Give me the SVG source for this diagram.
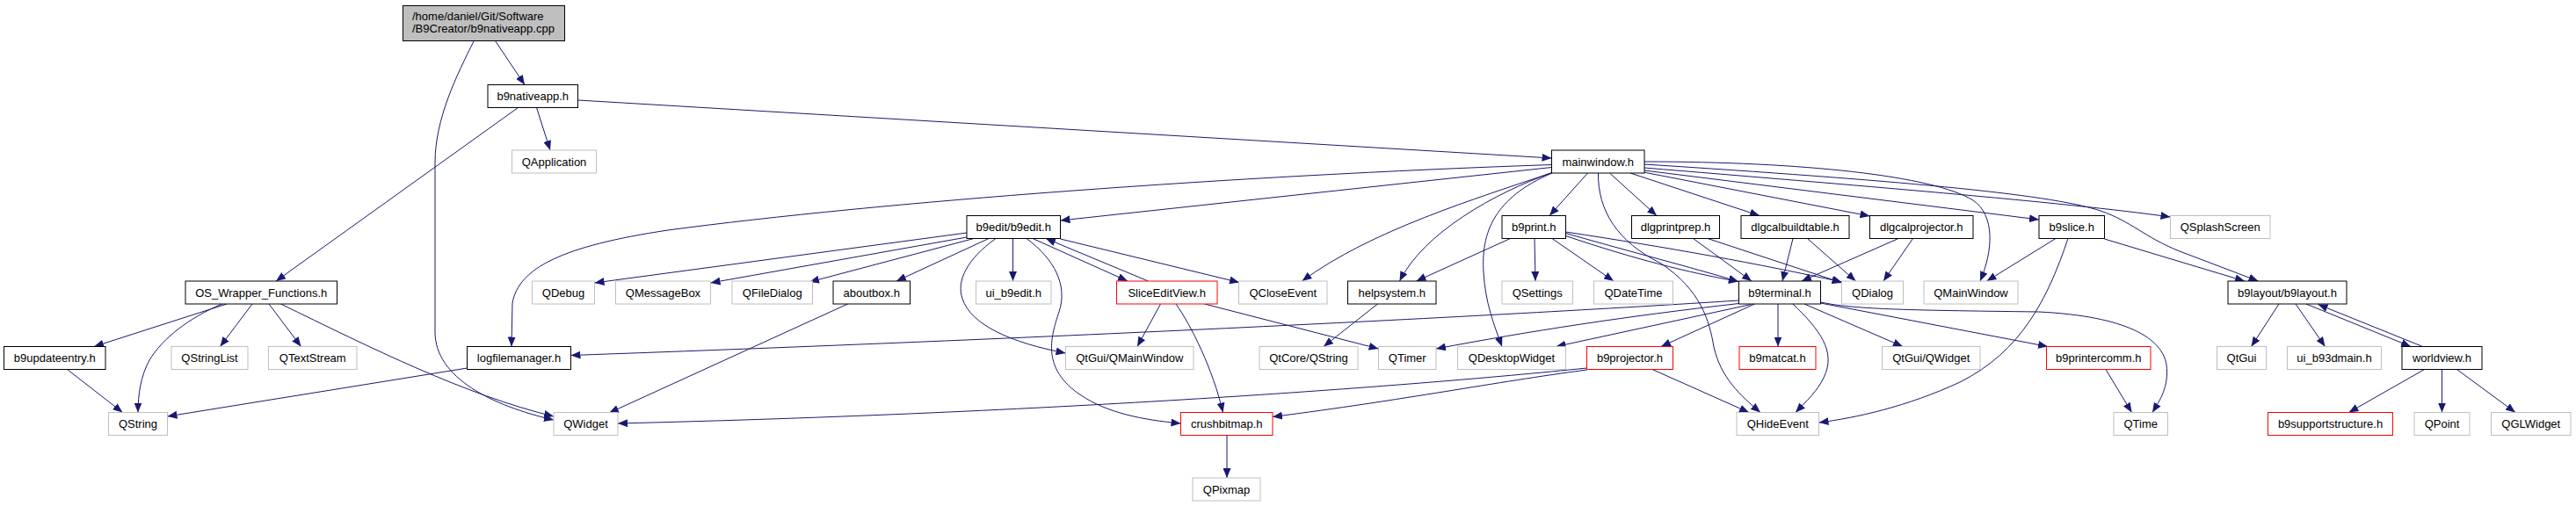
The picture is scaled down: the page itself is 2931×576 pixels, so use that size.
<svg xmlns="http://www.w3.org/2000/svg" width="2931" height="576" viewBox="0 0 2931 576">
<style>
rect{fill:#fff;stroke-width:1}
.k{stroke:#000}
.g{stroke:#bfbfbf}
.r{stroke:#ff0000}
.root{fill:#bfbfbf;stroke:#000}
text{font-family:"Liberation Sans",Helvetica,Arial,sans-serif;font-size:13px;fill:#000}
.n text{text-anchor:middle}
#edges path{fill:none;stroke:#191970;stroke-width:1;marker-end:url(#a)}
</style>
<defs>
<marker id="a" markerWidth="11" markerHeight="9" refX="11" refY="4.5" orient="auto" markerUnits="userSpaceOnUse"><path d="M0,0 L11,4.5 L0,9 z" fill="#191970"/></marker>
</defs>
<rect width="2931" height="576" style="fill:#fff;stroke:none"/>
<g id="edges">
<path d="M563.5,46.5 L597,96.5"/>
<path d="M539,47 C 520,85 495,135 495,185 L495,378 C 495,430 560,462 630,478"/>
<path d="M610.5,122.5 L626,171"/>
<path d="M657.5,114 L1765.5,180"/>
<path d="M589.5,122.5 L314,320"/>
<path d="M258,346 L107,394.5"/>
<path d="M252.5,346 C 215,362 185,385 170,410 C 160,428 157,450 157,469.5"/>
<path d="M287,346 L250.5,394.5"/>
<path d="M306,346 L342.5,394.5"/>
<path d="M319.5,346 C 420,395 530,450 630,474"/>
<path d="M76.5,420.5 L139.5,469.5"/>
<path d="M531.5,419 L190.5,474"/>
<path d="M1765.5,187.5 C 1400,200 1000,230 760,262 C 640,280 590,305 583,345 L582,394.5"/>
<path d="M1765.5,190.5 L1206.5,251"/>
<path d="M1766,196.5 C 1680,226 1560,262 1481.5,320"/>
<path d="M1766,196.5 C 1700,220 1620,265 1592.5,320"/>
<path d="M1766,197 C 1700,225 1685,265 1688,310 C 1690,345 1700,370 1709,394.5"/>
<path d="M1806.5,197 L1763,245.5"/>
<path d="M1818.5,197 C 1818,240 1840,275 1890,300 C 1935,330 1945,365 1950,395 C 1958,430 1980,450 2003,469.5"/>
<path d="M1831.5,197 L1885,245.5"/>
<path d="M1855,197 L2002,245.5"/>
<path d="M1870,196 L2127.5,246"/>
<path d="M1871,184 C 2050,184 2200,200 2245,228 C 2270,245 2268,285 2253,320"/>
<path d="M1871,187 C 2150,205 2330,220 2390,240 C 2425,252 2440,270 2480,286 L2569.5,320"/>
<path d="M1871,191 C 2100,210 2350,230 2469.5,247"/>
<path d="M1871,194 L2320,250"/>
<path d="M1100,265 L676.5,322"/>
<path d="M1100,270 L808.5,322"/>
<path d="M1108,271.5 L921,321"/>
<path d="M1125,271.5 L1020,320"/>
<path d="M1152.5,271.5 L1152.5,320"/>
<path d="M1133,271.5 C 1100,295 1088,320 1095,340 C 1105,370 1150,390 1212.5,402"/>
<path d="M1168,271.5 C 1200,295 1215,325 1205,355 C 1195,385 1185,420 1230,450 C 1260,470 1300,478 1343.5,482"/>
<path d="M1175,271.5 L1283,320"/>
<path d="M1306.5,320 L1190,271.5"/>
<path d="M1206.5,272 L1410,321.5"/>
<path d="M1320.5,346 L1294,394.5"/>
<path d="M1338,346 C 1355,370 1380,420 1391.5,469.5"/>
<path d="M1370.5,346 L1568.5,397"/>
<path d="M1567.5,346 L1506,394.5"/>
<path d="M1718.5,271.5 L1611.5,320"/>
<path d="M1746,271.5 L1747,320"/>
<path d="M1766,271.5 L1836,320"/>
<path d="M1781.5,265.5 C 1860,288 1920,303 1978,320.5"/>
<path d="M1781.5,268.5 C 1860,295 1920,310 1978,320.5"/>
<path d="M1781.5,264 C 1900,282 2000,300 2095.5,321"/>
<path d="M1926.5,271.5 L1993,320"/>
<path d="M1943,271.5 L2096,322"/>
<path d="M2040,271.5 L2028,320"/>
<path d="M2056.5,271.5 L2111.5,320"/>
<path d="M2160,271.5 L2050,320"/>
<path d="M2176.5,271.5 L2143,320"/>
<path d="M2339,271.5 L2260.5,320"/>
<path d="M2353,271.5 C 2330,340 2300,400 2230,435 C 2170,463 2110,476 2069.5,481"/>
<path d="M2394.5,272 L2554,320"/>
<path d="M1978.5,342 C 1700,360 1200,385 649.5,404.5"/>
<path d="M1978.5,345.5 C 1850,360 1740,377 1634,397"/>
<path d="M1992.5,346.5 L1770.5,394.5"/>
<path d="M1996.5,346 L1890,394.5"/>
<path d="M2023,346 L2023,394.5"/>
<path d="M2040,346 C 2070,375 2090,400 2075,430 C 2068,445 2055,457 2043,469.5"/>
<path d="M2053,346 L2165,394.5"/>
<path d="M2071.5,345 L2330,394.5"/>
<path d="M2071.5,344 C 2110,352 2160,353 2320,355 C 2420,360 2460,385 2465,415 C 2468,440 2458,455 2449,469.5"/>
<path d="M1805.5,419 C 1600,440 1200,470 703,482"/>
<path d="M1805.5,421 C 1700,435 1600,455 1448,474.5"/>
<path d="M1880,420.5 L1990,469.5"/>
<path d="M1396,495.5 L1396,544"/>
<path d="M2396,420.5 L2425.5,469.5"/>
<path d="M2593,346 L2561.5,394.5"/>
<path d="M2612,346 L2645.5,394.5"/>
<path d="M2624,346 L2743,394.5"/>
<path d="M2756.5,394.5 L2637.5,346.5"/>
<path d="M2758.5,420.5 L2672.5,469.5"/>
<path d="M2778.5,420.5 L2778.5,469.5"/>
<path d="M2795.5,420.5 L2862,469.5"/>
<path d="M964.5,346 L693,470"/>
</g>
<g id="root" class="n"><rect class="root" x="458.5" y="6.5" width="184" height="40"/><text x="469" y="23" style="text-anchor:start">/home/daniel/Git/Software</text><text x="469" y="37" style="text-anchor:start">/B9Creator/b9nativeapp.cpp</text></g>
<g id="b9nativeapp" class="n"><rect class="k" x="555" y="96.5" width="102.5" height="26"/><text x="606.25" y="114">b9nativeapp.h</text></g>
<g id="QApplication" class="n"><rect class="g" x="582.5" y="171" width="96" height="26"/><text x="630.5" y="188.5">QApplication</text></g>
<g id="mainwindow" class="n"><rect class="k" x="1765.5" y="171" width="105.5" height="26"/><text x="1818.25" y="188.5">mainwindow.h</text></g>
<g id="OS_Wrapper_Functions" class="n"><rect class="k" x="211" y="320" width="172.5" height="26"/><text x="297.25" y="337.5">OS_Wrapper_Functions.h</text></g>
<g id="b9updateentry" class="n"><rect class="k" x="4.5" y="394.5" width="115.5" height="26"/><text x="62.25" y="412">b9updateentry.h</text></g>
<g id="QStringList" class="n"><rect class="g" x="195" y="394.5" width="87" height="26"/><text x="238.5" y="412">QStringList</text></g>
<g id="QTextStream" class="n"><rect class="g" x="305.5" y="394.5" width="100.5" height="26"/><text x="355.75" y="412">QTextStream</text></g>
<g id="logfilemanager" class="n"><rect class="k" x="531.5" y="394.5" width="118" height="26"/><text x="590.5" y="412">logfilemanager.h</text></g>
<g id="QString" class="n"><rect class="g" x="123.5" y="469.5" width="67" height="26"/><text x="157" y="487">QString</text></g>
<g id="QWidget" class="n"><rect class="g" x="630" y="469.5" width="73" height="26"/><text x="666.5" y="487">QWidget</text></g>
<g id="QDebug" class="n"><rect class="g" x="605.5" y="320" width="71" height="26"/><text x="641" y="337.5">QDebug</text></g>
<g id="QMessageBox" class="n"><rect class="g" x="700.5" y="320" width="108" height="26"/><text x="754.5" y="337.5">QMessageBox</text></g>
<g id="QFileDialog" class="n"><rect class="g" x="833" y="320" width="91.5" height="26"/><text x="878.75" y="337.5">QFileDialog</text></g>
<g id="aboutbox" class="n"><rect class="k" x="948" y="320" width="87.5" height="26"/><text x="991.75" y="337.5">aboutbox.h</text></g>
<g id="ui_b9edit" class="n"><rect class="g" x="1110.5" y="320" width="85.5" height="26"/><text x="1153.25" y="337.5">ui_b9edit.h</text></g>
<g id="b9edit" class="n"><rect class="k" x="1100" y="245.5" width="106.5" height="26"/><text x="1153.25" y="263">b9edit/b9edit.h</text></g>
<g id="SliceEditView" class="n"><rect class="r" x="1270.5" y="320" width="114.5" height="26"/><text x="1327.75" y="337.5">SliceEditView.h</text></g>
<g id="QCloseEvent" class="n"><rect class="g" x="1409.5" y="320" width="100.5" height="26"/><text x="1459.75" y="337.5">QCloseEvent</text></g>
<g id="helpsystem" class="n"><rect class="k" x="1533.5" y="320" width="100.5" height="26"/><text x="1583.75" y="337.5">helpsystem.h</text></g>
<g id="QSettings" class="n"><rect class="g" x="1709" y="320" width="80.5" height="26"/><text x="1749.25" y="337.5">QSettings</text></g>
<g id="b9print" class="n"><rect class="k" x="1709" y="245.5" width="72.5" height="26"/><text x="1745.25" y="263">b9print.h</text></g>
<g id="QtGui_QMainWindow" class="n"><rect class="g" x="1212.5" y="394.5" width="145.5" height="26"/><text x="1285.25" y="412">QtGui/QMainWindow</text></g>
<g id="QtCore_QString" class="n"><rect class="g" x="1433" y="394.5" width="112" height="26"/><text x="1489" y="412">QtCore/QString</text></g>
<g id="QTimer" class="n"><rect class="g" x="1568.5" y="394.5" width="65.5" height="26"/><text x="1601.25" y="412">QTimer</text></g>
<g id="QDesktopWidget" class="n"><rect class="g" x="1658.5" y="394.5" width="123" height="26"/><text x="1720" y="412">QDesktopWidget</text></g>
<g id="crushbitmap" class="n"><rect class="r" x="1343.5" y="469.5" width="104.5" height="26"/><text x="1395.75" y="487">crushbitmap.h</text></g>
<g id="QPixmap" class="n"><rect class="g" x="1357" y="544" width="77" height="26"/><text x="1395.5" y="561.5">QPixmap</text></g>
<g id="dlgprintprep" class="n"><rect class="k" x="1856.5" y="245.5" width="100" height="26"/><text x="1906.5" y="263">dlgprintprep.h</text></g>
<g id="dlgcalbuildtable" class="n"><rect class="k" x="1981" y="245.5" width="123" height="26"/><text x="2042.5" y="263">dlgcalbuildtable.h</text></g>
<g id="dlgcalprojector" class="n"><rect class="k" x="2127.5" y="245.5" width="117.5" height="26"/><text x="2186.25" y="263">dlgcalprojector.h</text></g>
<g id="b9slice" class="n"><rect class="k" x="2320" y="245.5" width="74.5" height="26"/><text x="2357.25" y="263">b9slice.h</text></g>
<g id="QSplashScreen" class="n"><rect class="g" x="2469.5" y="245.5" width="113.5" height="26"/><text x="2526.25" y="263">QSplashScreen</text></g>
<g id="QDateTime" class="n"><rect class="g" x="1813.5" y="320" width="90" height="26"/><text x="1858.5" y="337.5">QDateTime</text></g>
<g id="b9terminal" class="n"><rect class="k" x="1978.5" y="320" width="93" height="26"/><text x="2025" y="337.5">b9terminal.h</text></g>
<g id="QDialog" class="n"><rect class="g" x="2095.5" y="320" width="70" height="26"/><text x="2130.5" y="337.5">QDialog</text></g>
<g id="QMainWindow" class="n"><rect class="g" x="2189" y="320" width="107" height="26"/><text x="2242.5" y="337.5">QMainWindow</text></g>
<g id="b9layout" class="n"><rect class="k" x="2535" y="320" width="135" height="26"/><text x="2602.5" y="337.5">b9layout/b9layout.h</text></g>
<g id="b9projector" class="n"><rect class="r" x="1805.5" y="394.5" width="98" height="26"/><text x="1854.5" y="412">b9projector.h</text></g>
<g id="b9matcat" class="n"><rect class="r" x="1979" y="394.5" width="87" height="26"/><text x="2022.5" y="412">b9matcat.h</text></g>
<g id="QtGui_QWidget" class="n"><rect class="g" x="2141.5" y="394.5" width="111.5" height="26"/><text x="2197.25" y="412">QtGui/QWidget</text></g>
<g id="b9printercomm" class="n"><rect class="r" x="2328.5" y="394.5" width="118.5" height="26"/><text x="2387.75" y="412">b9printercomm.h</text></g>
<g id="QtGui" class="n"><rect class="g" x="2522.5" y="394.5" width="56" height="26"/><text x="2550.5" y="412">QtGui</text></g>
<g id="ui_b93dmain" class="n"><rect class="g" x="2602.5" y="394.5" width="107" height="26"/><text x="2656" y="412">ui_b93dmain.h</text></g>
<g id="worldview" class="n"><rect class="k" x="2733" y="394.5" width="91" height="26"/><text x="2778.5" y="412">worldview.h</text></g>
<g id="QHideEvent" class="n"><rect class="g" x="1976" y="469.5" width="93.5" height="26"/><text x="2022.75" y="487">QHideEvent</text></g>
<g id="QTime" class="n"><rect class="g" x="2405" y="469.5" width="61.5" height="26"/><text x="2435.75" y="487">QTime</text></g>
<g id="b9supportstructure" class="n"><rect class="r" x="2580.5" y="469.5" width="142" height="26"/><text x="2651.5" y="487">b9supportstructure.h</text></g>
<g id="QPoint" class="n"><rect class="g" x="2747" y="469.5" width="63" height="26"/><text x="2778.5" y="487">QPoint</text></g>
<g id="QGLWidget" class="n"><rect class="g" x="2834.5" y="469.5" width="90.5" height="26"/><text x="2879.75" y="487">QGLWidget</text></g>
</svg>
